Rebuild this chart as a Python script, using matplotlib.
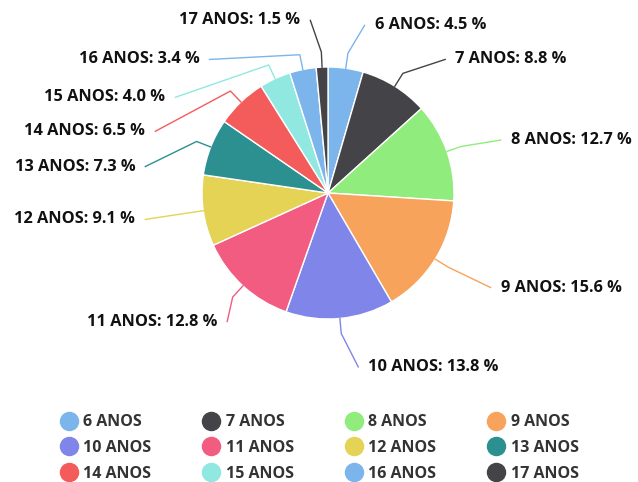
import numpy as np
import matplotlib.pyplot as plt
from matplotlib.lines import Line2D

categories = ["6 ANOS", "7 ANOS", "8 ANOS", "9 ANOS", "10 ANOS", "11 ANOS",
              "12 ANOS", "13 ANOS", "14 ANOS", "15 ANOS", "16 ANOS", "17 ANOS"]
percent = [4.5, 8.8, 12.7, 15.6, 13.8, 12.8, 9.1, 7.3, 6.5, 4.0, 3.4, 1.5]
colors = ["#7cb5ec", "#434348", "#90ed7d", "#f7a35c", "#8085e9", "#f15c80",
          "#e4d354", "#2b908f", "#f45b5b", "#91e8e1", "#7cb5ec", "#434348"]

# label anchor positions in pie-radius units (layout only)
label_pos = [(0.37, 1.33), (1.01, 1.06), (1.45, 0.42), (1.37, -0.75),
             (0.32, -1.38), (-0.88, -1.02), (-1.53, -0.21), (-1.53, 0.21),
             (-1.45, 0.49), (-1.29, 0.76), (-1.02, 1.06), (-0.22, 1.37)]

plt.rcParams['font.family'] = ['Open Sans', 'DejaVu Sans']

W, H = 638, 482
cx, cy, R = 328, 193, 126
fig = plt.figure(figsize=(W / 100, H / 100), dpi=100)
ax = fig.add_axes([0, 0, 1, 1])

wedges, _ = ax.pie(percent, colors=colors, startangle=90, counterclock=False,
                   wedgeprops=dict(edgecolor="white", linewidth=1))
ax.set_aspect("auto")
ax.set_xlim(-cx / R, (W - cx) / R)
ax.set_ylim((cy - H) / R, cy / R)
ax.axis("off")

for w, cat, val, (lx, ly) in zip(wedges, categories, percent, label_pos):
    ang = np.deg2rad((w.theta1 + w.theta2) / 2)
    ex, ey = np.cos(ang), np.sin(ang)
    mx, my = 1.12 * ex, 1.12 * ey
    right = lx > 0
    gap = 0.08 if right else -0.08
    ax.plot([ex, mx, lx - gap], [ey, my, ly], color=w.get_facecolor(), lw=1)
    ax.text(lx, ly, f"{cat}: {val:.1f} %", ha="left" if right else "right",
            va="center", fontsize=11.8, fontweight="bold", color="#111111")

handles = [Line2D([], [], marker="o", linestyle="", markersize=13,
                  markerfacecolor=c, markeredgecolor=c) for c in colors]
order = [c + 4 * r for c in range(4) for r in range(3)]
leg = fig.legend([handles[i] for i in order], [categories[i] for i in order],
                 ncol=4, loc="center", bbox_to_anchor=(0.5, 1 - 448 / H),
                 frameon=False, fontsize=11.5, handletextpad=0.3,
                 columnspacing=3.15, labelspacing=0.62, handlelength=1.2,
                 borderpad=0, borderaxespad=0)
for t in leg.get_texts():
    t.set_fontweight("bold")
    t.set_color("#333333")

fig.savefig("out.png", dpi=100)
